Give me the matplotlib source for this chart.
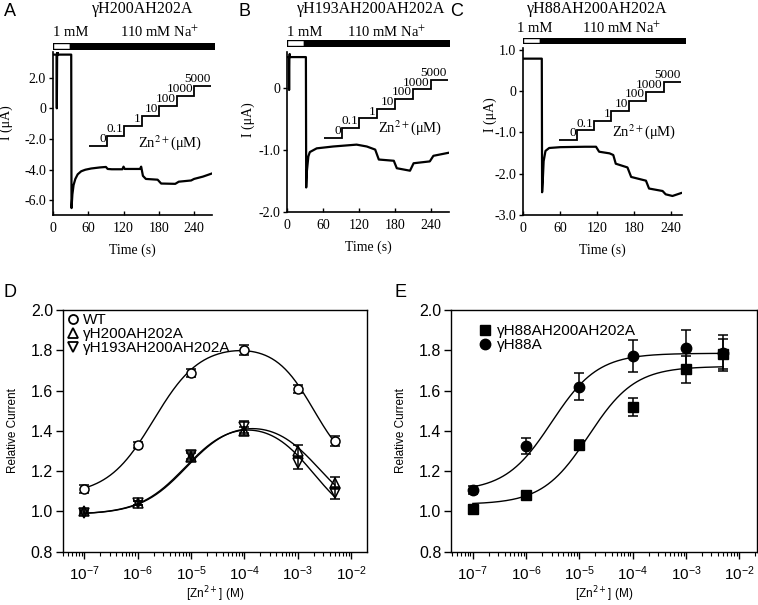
import numpy as np
import matplotlib.pyplot as plt
from matplotlib.lines import Line2D
from matplotlib.ticker import FixedLocator, FormatStrFormatter, LogLocator, NullFormatter

plt.rcParams['font.family'] = ['Liberation Sans', 'DejaVu Sans']
plt.rcParams['mathtext.fontset'] = 'dejavusans'
SERIF = ['Liberation Serif', 'DejaVu Serif']

W, H = 758, 605

# ---------------- top row: current traces ----------------
titles = ['γH200AH202A', 'γH193AH200AH202A', 'γH88AH200AH202A']
letters_top = ['A', 'B', 'C']

t_a = [0, 6, 6.5, 7, 7.5, 8, 31, 31.5, 33, 35, 38, 42, 48, 55, 65, 80, 90, 93, 100, 118, 120, 122,
       148, 150, 153, 158, 178, 184, 208, 214, 235, 240, 255, 270]
i_a = [3.5, 3.5, 0.0, 3.3, 3.7, 3.5, 3.5, -6.5, -5.6, -5.0, -4.6, -4.3, -4.1, -4.0, -3.92, -3.85,
       -3.82, -3.95, -3.97, -3.97, -3.8, -3.95, -3.95, -3.8, -4.4, -4.6, -4.65, -4.9, -4.92, -4.78,
       -4.7, -4.6, -4.45, -4.25]

t_b = [0, 3, 3.5, 4, 4.5, 5, 31.5, 32, 33, 35.6, 38, 49.5, 77, 116, 133, 147, 153, 178, 183, 205,
       211, 238, 244, 270]
i_b = [0.5, 0.5, -0.03, 0.5, 0.55, 0.5, 0.5, -1.6, -1.35, -1.1, -1.03, -0.97, -0.94, -0.91, -0.94,
       -0.99, -1.15, -1.17, -1.29, -1.33, -1.21, -1.18, -1.09, -1.04]

t_c = [0, 30, 30.5, 31.5, 33, 36, 42, 60, 100, 118, 123, 140, 146, 150, 169, 175, 199, 204, 226,
       231, 242, 256]
i_c = [0.78, 0.78, -2.45, -2.2, -1.7, -1.45, -1.38, -1.36, -1.35, -1.35, -1.47, -1.51, -1.55,
       -1.76, -1.85, -2.08, -2.17, -2.36, -2.42, -2.5, -2.54, -2.47]

zn_steps = ['0', '0.1', '1', '10', '100', '1000', '5000']
step_t_a = [61, 91.5, 121.5, 151, 181, 210.6, 240, 269]
step_t_b = [62, 91, 120.5, 149.5, 180, 209.5, 239.5, 268]
step_t_c = [58, 87, 115, 143, 172, 199, 228, 256]
step_base = [-2.46, -0.80, -1.19]
step_size = [0.655, 0.156, 0.235]
zn_text_pos = [(145, -2.26), (152, -0.63), (144, -0.97)]

na_switch = [29, 28, 27]          # end of 1 mM Na+ (s)
na_end = [274, 270, 262]

yticks_top = [[-6, -4, -2, 0, 2], [-2, -1, 0], [-3, -2, -1, 0, 1]]
ylims_top = [(-6.95, 3.67), (-2.0, 0.59), (-3.0, 1.03)]
xmax_top = [270, 270, 257]

# pixel boxes: left, right, top, bottom
box_top = [(53, 211.7, 52, 215), (287, 449, 51.5, 212.3), (523.3, 681.7, 48.3, 215)]
bar_box = [(53, 214, 42.7, 49.3), (287, 449, 40.3, 45.7), (523.3, 685, 38.3, 43.3)]
title_px = [(143, 9), (371, 9), (597, 9)]
letter_px = [(10, 12), (244, 12), (457, 12)]
mm_px = [(53, 120, 32), (287, 347, 32), (517, 582, 28.5)]
ylab_pos = [(-0.252, 0.564), (-0.198, 0.574), (-0.166, 0.6)]

traces = [(t_a, i_a), (t_b, i_b), (t_c, i_c)]
step_ts = [step_t_a, step_t_b, step_t_c]


def fx(x):
    return x / W


def fy(y):
    return 1 - y / H


fig = plt.figure(figsize=(W / 100, H / 100), dpi=100)

for k in range(3):
    l, r, tp, bt = box_top[k]
    ax = fig.add_axes([fx(l), fy(bt), (r - l) / W, (bt - tp) / H])
    t, cur = traces[k]
    ax.plot(t, cur, color='black', lw=1.6, solid_joinstyle='round')
    # zinc staircase
    levels = [step_base[k] + step_size[k] * j for j in range(7)]
    st = step_ts[k]
    ax.stairs(levels, st, baseline=None, color='black', lw=1.3)
    for j, lab in enumerate(zn_steps):
        ax.text(st[j + 1] - 1.5, levels[j] + step_size[k] * 0.08, lab, ha='right', va='bottom',
                fontsize=9.5, family=SERIF)
    ax.text(zn_text_pos[k][0], zn_text_pos[k][1], 'Zn$^{2+}$(μM)', ha='left', va='center',
            fontsize=10.5, family=SERIF, math_fontfamily='stix')
    ax.set_xlim(0, xmax_top[k])
    ax.set_ylim(*ylims_top[k])
    ax.set_xticks([0, 60, 120, 180, 240])
    ax.set_yticks(yticks_top[k])
    ax.set_yticklabels(['0' if v == 0 else '%.1f' % v for v in yticks_top[k]])
    for s in ['top', 'right']:
        ax.spines[s].set_visible(False)
    for s in ['left', 'bottom']:
        ax.spines[s].set_linewidth(1.2)
    ax.tick_params(axis='x', direction='in', length=3, width=1, labelsize=10, pad=5)
    ax.tick_params(axis='y', direction='out', length=3, width=1, labelsize=10, pad=2)
    for lab in ax.get_xticklabels() + ax.get_yticklabels():
        lab.set_family(SERIF)
    ax.set_xlabel('Time (s)', family=SERIF, fontsize=10, labelpad=6)
    ax.set_ylabel('I (μA)', family=SERIF, fontsize=10)
    ax.yaxis.set_label_coords(*ylab_pos[k])

    # solution bar
    bl, br, btp, bbt = bar_box[k]
    bax = fig.add_axes([fx(bl), fy(bbt), (br - bl) / W, (bbt - btp) / H])
    bax.broken_barh([(0, na_switch[k])], (0, 1), facecolor='white', edgecolor='black', lw=1)
    bax.broken_barh([(na_switch[k], na_end[k] - na_switch[k])], (0, 1), facecolor='black',
                    edgecolor='black', lw=1)
    bax.set_xlim(0, na_end[k])
    bax.set_ylim(0, 1)
    bax.axis('off')

    fig.text(fx(title_px[k][0]), fy(title_px[k][1]), titles[k], ha='center', va='center',
             fontsize=11.5, family=SERIF)
    fig.text(fx(letter_px[k][0]), fy(letter_px[k][1]), letters_top[k], ha='center', va='center',
             fontsize=13)
    fig.text(fx(mm_px[k][0]), fy(mm_px[k][2]), '1 mM', ha='left', va='center', fontsize=10.5,
             family=SERIF)
    fig.text(fx(mm_px[k][1]), fy(mm_px[k][2]), '110 mM Na$^{+}$', ha='left', va='center',
             fontsize=10.5, family=SERIF, math_fontfamily='stix')

# ---------------- bottom row: dose response ----------------
zn = [1e-7, 1e-6, 1e-5, 1e-4, 1e-3, 5e-3]

wt = [1.11, 1.33, 1.685, 1.80, 1.61, 1.35]
wt_err = [0.02, 0.015, 0.02, 0.025, 0.02, 0.025]
h200 = [1.00, 1.04, 1.27, 1.40, 1.30, 1.14]
h200_err = [0.01, 0.01, 0.02, 0.02, 0.03, 0.03]
h193 = [0.99, 1.04, 1.28, 1.42, 1.24, 1.09]
h193_err = [0.01, 0.01, 0.02, 0.03, 0.03, 0.03]

h88_triple = [1.01, 1.08, 1.33, 1.52, 1.705, 1.78]
h88_triple_err = [0.02, 0.01, 0.025, 0.045, 0.065, 0.075]
h88 = [1.105, 1.325, 1.62, 1.77, 1.81, 1.785]
h88_err = [0.02, 0.04, 0.065, 0.08, 0.09, 0.09]

# fitted curve parameters (bell: b, a, K1, n1, c, K2, n2; hill: bottom, top, EC50, n)
fit_wt = [1.08, 0.75, 2e-6, 1.0, 0.65, 2e-3, 1.2]
fit_h200 = [0.985, 0.48, 8.5e-6, 1.0, 0.5, 2.5e-3, 1.0]
fit_h193 = [0.985, 0.48, 8e-6, 1.0, 0.55, 2e-3, 1.0]
fit_h88_triple = [1.035, 1.72, 1.5e-5, 1.0]
fit_h88 = [1.10, 1.785, 3e-6, 1.0]


def bell(x, b, a, k1, n1, c, k2, n2):
    return b + a / (1 + (k1 / x) ** n1) - c / (1 + (k2 / x) ** n2)


def hill(x, bottom, top, ec50, n):
    return bottom + (top - bottom) / (1 + (ec50 / x) ** n)


xf = np.logspace(-7, np.log10(5e-3), 300)


def style_dose(ax, xlim):
    ax.set_xscale('log')
    ax.set_xlim(*xlim)
    ax.set_ylim(0.8, 2.0)
    ax.yaxis.set_major_locator(FixedLocator([0.8, 1.0, 1.2, 1.4, 1.6, 1.8, 2.0]))
    ax.yaxis.set_major_formatter(FormatStrFormatter('%.1f'))
    ax.xaxis.set_major_locator(FixedLocator([1e-7, 1e-6, 1e-5, 1e-4, 1e-3, 1e-2]))
    ax.xaxis.set_minor_locator(LogLocator(base=10, subs=np.arange(2, 10), numticks=20))
    ax.xaxis.set_minor_formatter(NullFormatter())
    for s in ax.spines.values():
        s.set_linewidth(1.0)
    ax.tick_params(axis='x', which='major', direction='out', length=5, width=1, labelsize=11,
                   pad=4)
    ax.tick_params(axis='x', which='minor', direction='out', length=3, width=0.8)
    ax.tick_params(axis='y', direction='out', length=5, width=1, labelsize=11.5, pad=2)
    ax.set_xlabel('[Zn$^{2+}$] (M)', fontsize=8.5, labelpad=1)
    ax.set_ylabel('Relative Current', fontsize=8.5)


ek = dict(color='black', capsize=3.5, elinewidth=1.1, capthick=1.1, ls='none')

# D
axd = fig.add_axes([fx(62.7), fy(551.7), 304 / W, 241.7 / H])
style_dose(axd, (10 ** -7.405, 10 ** -1.705))
axd.plot(xf, bell(xf, *fit_wt), color='black', lw=1)
axd.plot(xf, bell(xf, *fit_h200), color='black', lw=1)
axd.plot(xf, bell(xf, *fit_h193), color='black', lw=1)
axd.errorbar(zn, wt, yerr=wt_err, marker='o', ms=6.5, mfc='white', mec='black', mew=1.1, **ek)
axd.errorbar(zn, h200, yerr=h200_err, marker='^', ms=7.5, mfc='none', mec='black', mew=1.1, **ek)
axd.errorbar(zn, h193, yerr=h193_err, marker='v', ms=7.5, mfc='none', mec='black', mew=1.1, **ek)
hd = [Line2D([], [], ls='none', marker=m, ms=ms, mfc='none', mec='black', mew=1.3)
      for m, ms in [('o', 6.5), ('^', 7.5), ('v', 7.5)]]
axd.legend(hd, ['WT', 'γH200AH202A', 'γH193AH200AH202A'], loc='upper left', frameon=False,
           fontsize=11, handletextpad=0.1, handlelength=1.0, borderaxespad=0.15, labelspacing=0.0,
           borderpad=0.05)
axd.yaxis.set_label_coords(-0.145, 0.5)

# E
axe = fig.add_axes([fx(451), fy(551.7), 305.5 / W, 241.7 / H])
style_dose(axe, (10 ** -7.41, 10 ** -1.677))
axe.plot(xf, hill(xf, *fit_h88_triple), color='black', lw=1)
axe.plot(xf, hill(xf, *fit_h88), color='black', lw=1)
axe.errorbar(zn, h88_triple, yerr=h88_triple_err, marker='s', ms=6.5, mfc='black', mec='black', **ek)
axe.errorbar(zn, h88, yerr=h88_err, marker='o', ms=7.5, mfc='black', mec='black', **ek)
he = [Line2D([], [], ls='none', marker=m, ms=ms, mfc='black', mec='black')
      for m, ms in [('s', 6.5), ('o', 7.5)]]
axe.legend(he, ['γH88AH200AH202A', 'γH88A'], loc='upper left', bbox_to_anchor=(0.05, 0.985),
           frameon=False, fontsize=11, handletextpad=0.3, handlelength=1.0, labelspacing=0.0,
           borderpad=0.2)
axe.yaxis.set_label_coords(-0.145, 0.5)

fig.text(fx(10), fy(292), 'D', ha='center', va='center', fontsize=13)
fig.text(fx(400), fy(292), 'E', ha='center', va='center', fontsize=13)

fig.savefig('out.png', dpi=100)
